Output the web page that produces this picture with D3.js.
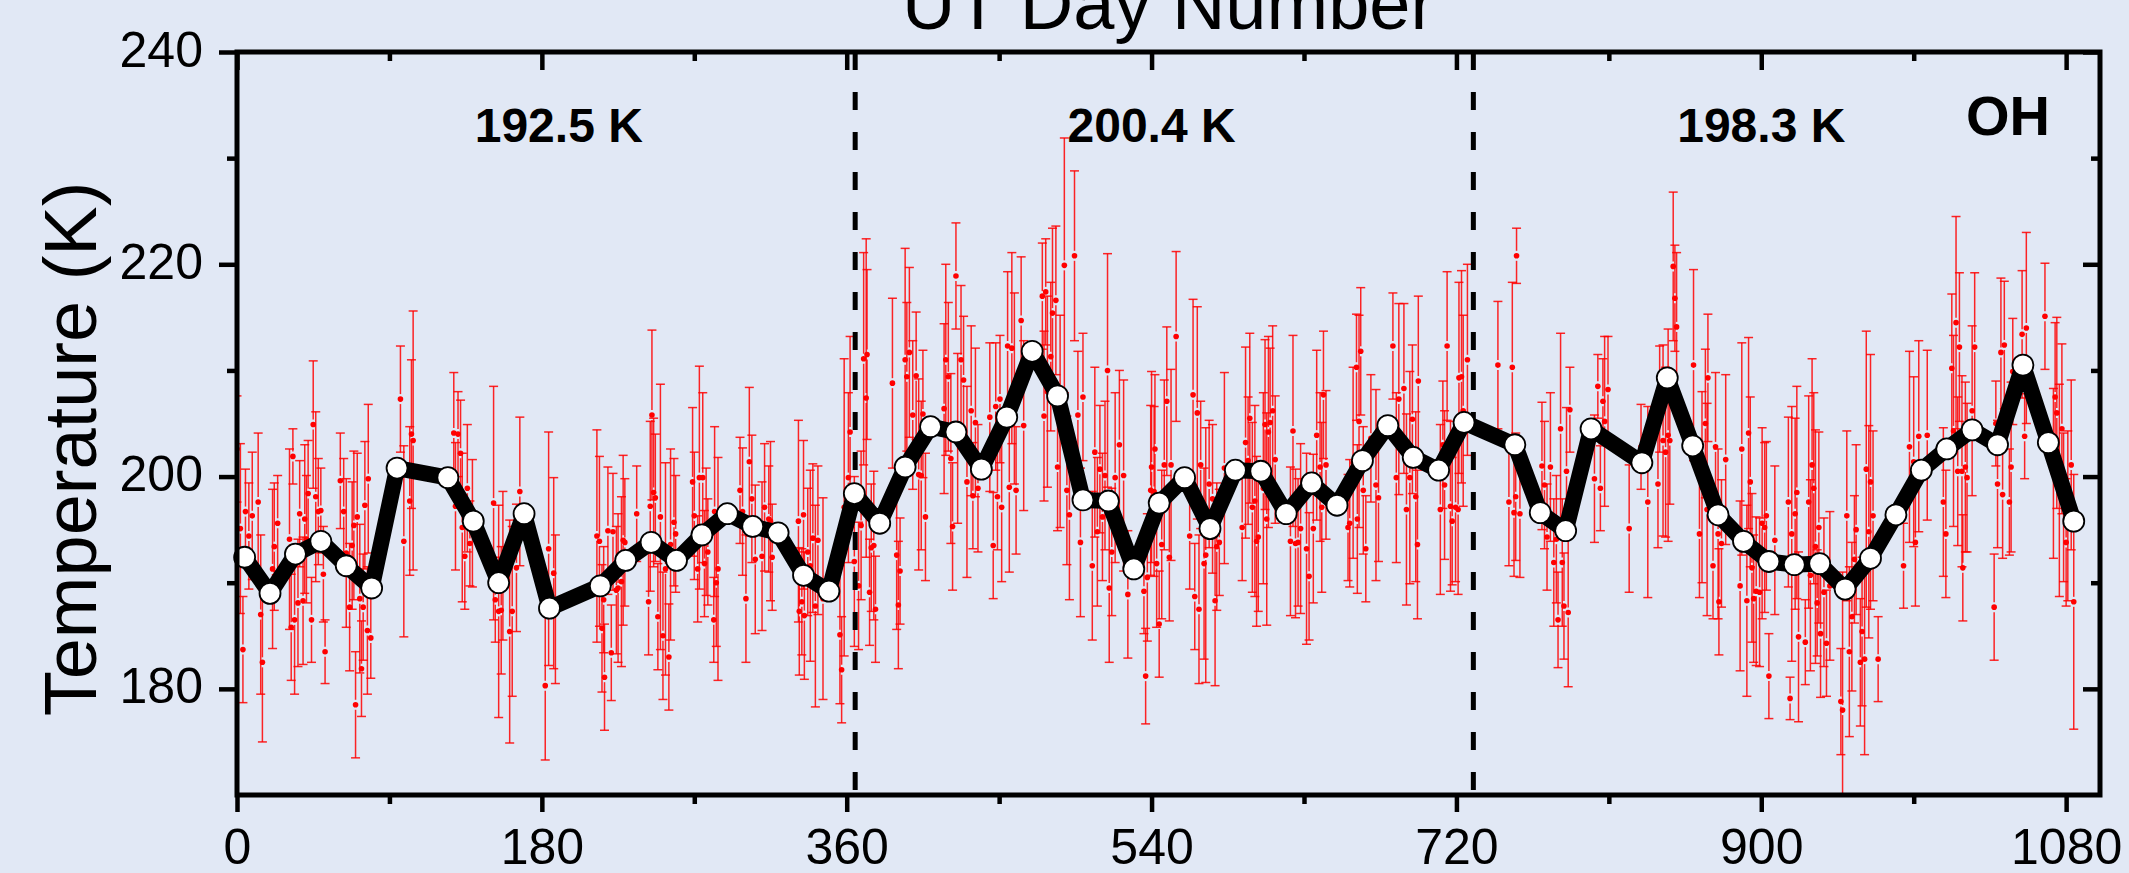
<!DOCTYPE html>
<html lang="en">
<head>
<meta charset="UTF-8">
<title>OH Temperature</title>
<script src="https://cdn.jsdelivr.net/npm/d3@7"></script>
<style>
body {
    margin: 0;
    background-color: #e1e8f5;
    overflow: hidden;
}
svg {
    display: block;
    font-family: 'Liberation Sans', Arial, sans-serif;
}
.axis text {
    font-size: 50px;
    fill: #000;
}
.axis line {
    stroke: #000;
    stroke-width: 4.5px;
}
</style>
</head>
<body>
<div id="chart"></div>
<script>
// Mean temperature every 15 days (black line)
const meanDays = [4.5, 19.5, 34.5, 49.5, 64.5, 79.5, 94.5,
    124.5, 139.5, 154.5, 169.5, 184.5,
    214.5, 229.5, 244.5, 259.5, 274.5, 289.5, 304.5, 319.5, 334.5, 349.5, 364.5, 379.5,
    394.5, 409.5, 424.5, 439.5, 454.5, 469.5, 484.5, 499.5, 514.5, 529.5, 544.5, 559.5,
    574.5, 589.5, 604.5, 619.5, 634.5, 649.5, 664.5, 679.5, 694.5, 709.5, 724.5,
    754.5, 769.5, 784.5, 799.5,
    829.5, 844.5, 859.5, 874.5, 889.5, 904.5, 919.5, 934.5, 949.5, 964.5, 979.5, 994.5,
    1009.5, 1024.5, 1039.5, 1054.5, 1069.5, 1084.5];
const meanTemps = [192.4, 189.0, 192.7, 193.9, 191.6, 189.5, 200.8,
    199.9, 195.8, 190.0, 196.5, 187.6,
    189.7, 192.1, 193.8, 192.1, 194.5, 196.5, 195.3, 194.7, 190.7, 189.2, 198.4, 195.6,
    200.9, 204.7, 204.2, 200.7, 205.6, 211.8, 207.6, 197.8, 197.7, 191.3, 197.5, 199.9,
    195.1, 200.6, 200.5, 196.5, 199.4, 197.3, 201.5, 204.8, 201.8, 200.6, 205.1,
    203.0, 196.6, 194.9, 204.5,
    201.3, 209.3, 202.9, 196.4, 193.9, 192.0, 191.7, 191.8, 189.4, 192.3, 196.4, 200.6,
    202.6, 204.4, 203.0, 210.5, 203.2, 195.8];

// Nightly temperatures: [day, temperature, error]
const nights = [
    [0, 202.6, 5], [2, 195.1, 8], [3.5, 183.7, 5], [5, 196.7, 4], [7, 194.4, 5], [9, 196.3, 6],
    [12.5, 197.6, 6.5], [14, 187.0, 7.5], [15, 182.5, 7.5], [21, 191.3, 7.5], [22, 193.4, 6], [24, 195.6, 4.5],
    [31, 194.1, 8.5], [32, 185.8, 5], [33, 201.9, 2.6], [34, 186.5, 7], [36, 188.1, 6], [37, 196.5, 5],
    [39, 188.3, 6], [40, 196.0, 7], [41, 194.1, 6], [42, 198.4, 5], [44, 186.5, 4], [45, 204.9, 6],
    [46.5, 198.1, 8], [48, 196.7, 5], [49.5, 196.8, 4], [51, 190.8, 4.5], [52, 183.5, 3], [61, 199.6, 4.5],
    [63, 196.7, 5], [64.5, 192.8, 7], [66.5, 187.7, 6], [68, 193.5, 6], [69, 195.4, 7], [70, 178.5, 5],
    [71, 196.2, 6], [72.5, 188.5, 7], [73.5, 181.9, 4.5], [74.5, 187.7, 5], [75.5, 197.3, 6], [77, 185.5, 6],
    [77.5, 199.8, 7], [79, 184.8, 3.8], [96.5, 207.3, 5], [98.5, 193.9, 9], [102, 197.7, 7], [103, 204.0, 7],
    [104, 203.4, 12.2], [128, 204.1, 5.7], [129, 197.2, 6], [130.5, 204.0, 4], [132, 202.2, 5], [133, 195.2, 7],
    [134.5, 192.5, 5], [136, 198.9, 6], [137.5, 193.7, 4], [139, 195.6, 6], [151.5, 197.5, 11], [152.5, 188.4, 4],
    [154.5, 187.3, 10], [156, 187.4, 6], [157, 191.6, 7], [161, 185.4, 10.5], [162.5, 187.3, 8], [165, 191.4, 6],
    [167, 198.6, 7],
    [182, 180.3, 7], [184, 193.2, 11], [187, 190.9, 9], [188, 187.5, 7], [212.5, 194.4, 10], [214, 193.9, 8],
    [215.5, 185.7, 6], [216.5, 188.4, 5], [217, 181.1, 5], [219, 194.9, 6], [221, 183.4, 4.5], [222, 194.8, 5.5],
    [224, 189.3, 6], [225, 189.5, 7], [227, 190.1, 8], [228, 194.0, 8], [229, 193.8, 6], [236, 196.5, 4.5],
    [243, 188.2, 5], [244, 197.2, 8], [245, 205.8, 8], [246, 198.5, 7], [247, 198.0, 6], [248.5, 186.8, 5],
    [250, 196.2, 12.5], [251.5, 185.0, 6], [253, 191.3, 10], [255, 183.0, 5], [256, 193.6, 9], [258, 195.7, 6],
    [259, 194.6, 5.5], [269, 199.5, 7], [270, 196.3, 6], [272, 191.3, 5], [273, 199.9, 10.5], [275, 199.9, 8],
    [276, 191.8, 5], [277, 194.8, 6], [278, 192.9, 5], [281.5, 186.5, 4], [282, 196.7, 8], [283, 190.0, 6],
    [284, 191.3, 10.5], [297, 198.7, 5], [298.5, 196.7, 6], [300.5, 188.5, 6], [302.5, 201.4, 7], [304, 197.9, 6],
    [306, 192.2, 7], [310, 192.5, 7], [311.5, 197.1, 6], [314, 196.0, 5], [315, 195.8, 7.5], [316, 192.4, 5],
    [331.5, 195.8, 9.5], [332, 187.3, 6], [333.5, 188.2, 5], [334.5, 196.4, 7], [335, 186.9, 6], [337, 192.9, 6],
    [338.5, 191.6, 9], [340, 194.2, 7], [341.5, 187.8, 9.5], [343, 194.0, 7], [346, 188.5, 9.5], [356, 185.1, 6.5],
    [357, 181.8, 5], [358.5, 197.1, 14],
    [361, 199.9, 8], [362, 204.2, 9], [364.5, 192.0, 8], [367, 189.7, 6], [368.5, 195.4, 7], [370, 211.1, 10],
    [371.5, 207.4, 15], [372, 211.5, 8], [373.5, 189.1, 5], [374.5, 193.3, 6], [376, 193.5, 7], [377, 187.5, 5],
    [387, 208.8, 8], [389.5, 192.6, 7], [390.5, 187.9, 6], [391.5, 191.1, 5], [394.5, 211.0, 10.5], [395.5, 209.4, 7],
    [397, 211.7, 8], [399, 205.8, 7], [401, 209.5, 6], [402.5, 200.2, 9], [404, 200.1, 7], [405, 205.9, 6],
    [406.5, 196.2, 6], [417.5, 206.4, 8], [418.5, 211.0, 9], [420, 209.4, 7], [421.5, 201.7, 8], [422.5, 195.3, 6],
    [424.5, 218.9, 5], [425.5, 203.6, 8], [427.5, 211.0, 7], [429, 209.1, 6], [431, 199.5, 9], [433.5, 206.2, 8],
    [434.5, 198.2, 5], [436, 205.1, 7], [437.5, 198.9, 6], [444.5, 205.6, 7], [446.5, 193.5, 5], [448, 206.6, 6],
    [449, 198.1, 5], [450.5, 207.3, 6], [451.5, 197.1, 7], [455, 212.3, 7], [456, 199.0, 8], [457.5, 212.1, 9],
    [459, 208.3, 9], [460, 198.7, 6], [463, 214.7, 6], [464.5, 204.8, 8], [475.5, 217.0, 5], [476.5, 205.7, 8],
    [477.5, 217.4, 5], [478.5, 208.0, 9], [480.5, 211.3, 7], [481.5, 215.4, 8], [483.5, 216.6, 7], [484.5, 200.9, 6],
    [486, 205.2, 10], [488.5, 219.9, 12], [490, 198.7, 7], [491.5, 196.4, 8], [494.5, 220.8, 8], [496.5, 205.8, 6],
    [498, 193.8, 7], [499.5, 207.5, 6], [505, 191.6, 7], [506.5, 202.3, 8], [508, 194.8, 7], [509.5, 200.7, 6],
    [511, 196.2, 6], [512.5, 200.1, 7], [514, 210.0, 11], [515, 189.5, 7], [516.5, 192.9, 6], [518.5, 199.9, 8],
    [521, 203.0, 7], [523.5, 200.1, 9], [526, 188.9, 6], [535.5, 189.2, 4], [536.5, 181.2, 4.5], [537.5, 190.5, 6],
    [540, 200.9, 9], [541.5, 198.6, 8],
    [539.5, 198.7, 8], [542, 202.6, 7], [543, 191.8, 6], [544.5, 186.1, 5], [546, 193.6, 7], [547.5, 201.1, 8],
    [549, 207.1, 7], [550.5, 192.4, 6], [551.5, 201.1, 9], [554.5, 213.2, 8], [562.5, 194.4, 5], [564.5, 207.7, 9],
    [565.5, 188.7, 5], [567, 206.0, 10], [568, 187.5, 7], [569, 201.1, 6], [571, 191.8, 9], [572, 192.6, 12],
    [574, 199.3, 6], [576, 197.9, 7], [577.5, 188.3, 8], [578.5, 193.4, 6], [580, 193.8, 5], [583, 200.8, 9],
    [593.5, 195.2, 5], [595.5, 203.2, 9], [597, 201.5, 6], [598, 205.5, 8], [599.5, 197.1, 8], [601, 197.7, 9],
    [602, 193.9, 8], [603, 194.3, 7], [606, 198.9, 9], [607, 204.9, 8], [608, 196.0, 10], [609, 204.2, 9],
    [610, 205.1, 7], [611.5, 206.2, 8], [613, 201.6, 6], [622, 193.9, 7], [623.5, 204.3, 9], [625, 193.7, 7],
    [626.5, 193.8, 6], [628, 195.1, 8], [631.5, 193.2, 9], [633, 190.6, 6], [635.5, 195.1, 7], [637.5, 203.9, 8],
    [639.5, 200.9, 7], [640.5, 197.1, 8], [641.5, 207.7, 6], [643, 201.1, 7], [656, 195.2, 5], [657, 195.6, 6],
    [659, 201.3, 9], [661, 210.3, 5], [661.5, 196.0, 7], [662.5, 205.2, 10], [663.5, 211.8, 6], [665, 198.7, 6],
    [666.5, 193.2, 5], [669.5, 203.6, 6], [672.5, 199.2, 9], [674, 198.0, 6], [682.5, 212.3, 5], [684.5, 199.9, 8],
    [686, 207.3, 9], [689, 208.3, 8], [690.5, 196.9, 9], [692.5, 199.9, 10], [694, 205.4, 7], [696, 198.1, 8],
    [697, 193.6, 7], [697.5, 209.0, 8], [710.5, 196.9, 8], [712, 203.0, 6], [713, 199.2, 7], [714.5, 212.3, 7],
    [716.5, 197.2, 8], [717.5, 195.8, 6], [719.5, 197.1, 7], [721.5, 209.3, 9],
    [721, 196.9, 8], [723, 209.4, 10], [724, 206.2, 9], [726.5, 211.0, 9], [744.5, 210.5, 6], [751, 197.6, 6],
    [753, 210.3, 8], [754, 196.6, 6], [755, 198.1, 6], [755.5, 220.8, 2.6], [757.5, 196.5, 6], [770.5, 201.0, 6],
    [772, 199.2, 6], [773.5, 194.3, 5], [775.5, 200.9, 7], [777.5, 191.9, 6], [779, 194.1, 6], [780, 186.5, 4.5],
    [781.5, 204.5, 9], [782.5, 191.9, 6], [783.5, 187.8, 5], [785, 200.5, 6], [786, 187.2, 7], [787, 206.3, 4],
    [801.5, 199.8, 6], [803.5, 208.5, 3], [805, 198.9, 4], [806.5, 207.1, 4], [807.5, 205.2, 8], [809.5, 208.2, 5],
    [822, 195.1, 6], [829, 202.8, 4], [833, 197.6, 9], [839, 199.3, 6], [840, 207.3, 5], [842, 203.4, 9],
    [843.5, 202.3, 8], [845, 203.9, 10], [846, 203.4, 6], [848, 219.8, 7], [849, 216.8, 5], [850, 214.1, 7],
    [860, 210.5, 9], [863.5, 194.6, 6], [865, 199.0, 9], [867, 205.0, 7], [868, 196.9, 10], [868.5, 209.3, 6],
    [871.5, 191.6, 5], [873, 202.8, 7], [874.5, 194.6, 8], [875, 188.2, 5], [876.5, 193.7, 6], [879, 201.6, 8],
    [887.5, 189.7, 8], [888.5, 202.6, 10], [891.5, 188.3, 9], [892.5, 204.1, 9], [893.5, 199.5, 8], [894.5, 191.4, 7],
    [895.5, 188.5, 6], [897, 189.2, 7], [899, 189.1, 7], [900.5, 195.6, 9], [902, 195.2, 8], [903, 196.3, 7],
    [904.5, 181.2, 4], [908, 194.0, 7], [916, 197.6, 8], [917, 179.1, 2], [918, 194.6, 12], [920, 196.5, 9],
    [921, 198.5, 10], [922, 184.9, 8], [926, 184.4, 4], [928, 197.6, 10], [929, 190.7, 9], [930, 201.1, 10],
    [931, 198.9, 9], [932, 193.4, 11], [933, 188.1, 5], [934, 195.2, 9], [935, 185.2, 6], [937, 189.1, 7],
    [938.5, 184.3, 5], [940.5, 189.7, 7], [947, 178.8, 5], [948, 178.0, 13], [950.5, 196.3, 8], [952, 183.5, 8],
    [953.5, 186.8, 7], [955, 192.2, 6], [956, 195.0, 8], [958.5, 182.5, 6], [959.5, 185.4, 7], [961, 182.8, 9],
    [962, 200.7, 13], [963.5, 194.8, 10], [964.5, 199.5, 12], [966, 196.3, 8], [969, 182.8, 4], [984, 191.6, 4],
    [987.5, 202.8, 9], [990, 201.4, 8], [991, 193.8, 6], [993, 203.8, 9], [998, 203.9, 8], [1007.5, 197.6, 7],
    [1009, 194.6, 6], [1012.5, 210.2, 7], [1013.5, 204.3, 9], [1015, 214.5, 10], [1016, 200.5, 7], [1017, 212.2, 7],
    [1018.5, 200.5, 9], [1019, 191.4, 5], [1020.5, 200.9, 8], [1021.5, 199.9, 7], [1024.5, 206.2, 8], [1026, 212.2, 7],
    [1037.5, 187.7, 5], [1038.5, 205.0, 4], [1039.5, 199.3, 6], [1041.5, 211.7, 7], [1042.5, 198.3, 6], [1043.5, 212.4, 6],
    [1046.5, 197.6, 5], [1047.5, 200.9, 8], [1048.5, 209.9, 5], [1054, 213.4, 6], [1055.5, 203.8, 4], [1056.5, 214.0, 9],
    [1067.5, 215.1, 5], [1072.5, 200.3, 8], [1073.5, 207.5, 7], [1074.5, 206.0, 9], [1076, 198.7, 10], [1077.5, 204.5, 8],
    [1078.5, 197.1, 7], [1080, 193.8, 6], [1081, 196.3, 8], [1083, 201.1, 8], [1084.5, 188.2, 12]
];

// Axis ticks
const xMajorTicks = [0, 180, 360, 540, 720, 900, 1080];
const xMinorTicks = [90, 270, 450, 630, 810, 990];
const yMajorTicks = [180, 200, 220, 240];
const yMinorTicks = [190, 210, 230];

// Year boundaries and yearly means
const yearBreaks = [365, 730];
const yearMeans = ["192.5 K", "200.4 K", "198.3 K"];

// Chart dimensions
const width = 2129, height = 873;
const plotLeft = 237, plotRight = 2100, plotTop = 52, plotBottom = 795;

const svg = d3.select("#chart").append("svg")
    .attr("width", width).attr("height", height);

svg.append("rect").attr("width", width).attr("height", height).attr("fill", "#e1e8f5");

const x = d3.scaleLinear().domain([0, 1100]).range([plotLeft, plotRight]);
const y = d3.scaleLinear().domain([170, 240]).range([plotBottom, plotTop]);

svg.append("clipPath").attr("id", "plotClip")
    .append("rect")
    .attr("x", plotLeft).attr("y", plotTop)
    .attr("width", plotRight - plotLeft).attr("height", plotBottom - plotTop);

// Nightly error bars
const bars = svg.append("g")
    .attr("clip-path", "url(#plotClip)")
    .attr("stroke", "#ff0000")
    .attr("stroke-width", 1.5)
    .attr("stroke-opacity", 0.85);

const gap = 5, cap = 4.5;
nights.forEach(d => {
    const cx = x(d[0]), cy = y(d[1]);
    const yHi = y(d[1] + d[2]), yLo = y(d[1] - d[2]);
    if (cy - gap > yHi) {
        bars.append("line").attr("x1", cx).attr("x2", cx).attr("y1", yHi).attr("y2", cy - gap);
    }
    if (cy + gap < yLo) {
        bars.append("line").attr("x1", cx).attr("x2", cx).attr("y1", cy + gap).attr("y2", yLo);
    }
    bars.append("line").attr("x1", cx - cap).attr("x2", cx + cap).attr("y1", yHi).attr("y2", yHi);
    bars.append("line").attr("x1", cx - cap).attr("x2", cx + cap).attr("y1", yLo).attr("y2", yLo);
});

svg.append("g")
    .attr("clip-path", "url(#plotClip)")
    .selectAll("circle")
    .data(nights)
    .enter().append("circle")
    .attr("cx", d => x(d[0]))
    .attr("cy", d => y(d[1]))
    .attr("r", 2.8)
    .attr("fill", "#ff0000");

// Year boundary dashed lines
svg.selectAll(".year-break")
    .data(yearBreaks)
    .enter().append("line")
    .attr("class", "year-break")
    .attr("x1", d => x(d)).attr("x2", d => x(d))
    .attr("y1", plotTop).attr("y2", plotBottom)
    .attr("stroke", "#000")
    .attr("stroke-width", 5)
    .attr("stroke-dasharray", "18,22");

// 15 day mean line
const meanData = meanDays.map((d, i) => [d, meanTemps[i]]);
const line = d3.line()
    .x(d => x(d[0]))
    .y(d => y(d[1]));

svg.append("path")
    .datum(meanData)
    .attr("fill", "none")
    .attr("stroke", "#000")
    .attr("stroke-width", 16)
    .attr("stroke-linejoin", "round")
    .attr("d", line);

svg.append("g")
    .selectAll("circle")
    .data(meanData)
    .enter().append("circle")
    .attr("cx", d => x(d[0]))
    .attr("cy", d => y(d[1]))
    .attr("r", 10.5)
    .attr("fill", "#fff")
    .attr("stroke", "#000")
    .attr("stroke-width", 1.8);

// Axes: labelled bottom/left, mirrored ticks on top/right
function addAxis(axis, transform) {
    const g = svg.append("g").attr("class", "axis").attr("transform", transform).call(axis);
    g.select(".domain").remove();
    return g;
}

addAxis(d3.axisBottom(x).tickValues(xMajorTicks).tickFormat(d3.format("d")).tickSize(17).tickPadding(16), `translate(0,${plotBottom})`);
addAxis(d3.axisBottom(x).tickValues(xMinorTicks).tickSize(9).tickFormat(""), `translate(0,${plotBottom})`);
addAxis(d3.axisTop(x).tickValues(xMajorTicks).tickSize(-18).tickFormat(""), `translate(0,${plotTop})`);
addAxis(d3.axisTop(x).tickValues(xMinorTicks).tickSize(-9).tickFormat(""), `translate(0,${plotTop})`);

const yAxis = addAxis(d3.axisLeft(y).tickValues(yMajorTicks).tickSize(18).tickPadding(16), `translate(${plotLeft},0)`);
yAxis.selectAll("text").attr("dy", "0.28em");
addAxis(d3.axisLeft(y).tickValues(yMinorTicks).tickSize(10).tickFormat(""), `translate(${plotLeft},0)`);
addAxis(d3.axisRight(y).tickValues(yMajorTicks).tickSize(-17).tickFormat(""), `translate(${plotRight},0)`);
addAxis(d3.axisRight(y).tickValues(yMinorTicks).tickSize(-9).tickFormat(""), `translate(${plotRight},0)`);

// Frame
svg.append("rect")
    .attr("x", plotLeft).attr("y", plotTop)
    .attr("width", plotRight - plotLeft).attr("height", plotBottom - plotTop)
    .attr("fill", "none")
    .attr("stroke", "#000")
    .attr("stroke-width", 5);

// Titles
svg.append("text")
    .attr("x", (plotLeft + plotRight) / 2)
    .attr("y", 29)
    .attr("text-anchor", "middle")
    .style("font-size", "74px")
    .text("UT Day Number");

svg.append("text")
    .attr("transform", "translate(96,449) rotate(-90)")
    .attr("text-anchor", "middle")
    .style("font-size", "74px")
    .text("Temperature (K)");

// Yearly mean labels
const labelDays = [190, 540, 900];
svg.selectAll(".year-mean")
    .data(yearMeans)
    .enter().append("text")
    .attr("class", "year-mean")
    .attr("x", (d, i) => x(labelDays[i]))
    .attr("y", 142)
    .attr("text-anchor", "middle")
    .style("font-size", "48px")
    .style("font-weight", "bold")
    .text(d => d);

svg.append("text")
    .attr("x", 2008)
    .attr("y", 135)
    .attr("text-anchor", "middle")
    .style("font-size", "56px")
    .style("font-weight", "bold")
    .text("OH");
</script>
</body>
</html>
